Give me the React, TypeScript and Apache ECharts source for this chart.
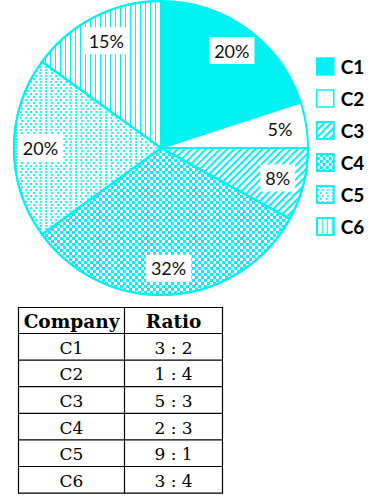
import React, { useEffect, useRef } from "react";
import * as echarts from "echarts";

const companies = ["C1", "C2", "C3", "C4", "C5", "C6"];
const shares = [20, 5, 8, 32, 20, 15];
const ratioHeader = ["Company", "Ratio"];
const ratios = ["3 : 2", "1 : 4", "5 : 3", "2 : 3", "9 : 1", "3 : 4"];

const CYAN = "#00F2F2";

const decals: any[] = [
  null,
  null,
  { symbol: "rect", color: CYAN, backgroundColor: "#fff", dashArrayX: [1, 0], dashArrayY: [2, 2.5], rotation: -Math.PI / 4 },
  { symbol: "rect", color: CYAN, backgroundColor: "#fff", dashArrayX: [[3, 3], [0, 3, 3, 0]], dashArrayY: [3, 0] },
  { symbol: "circle", color: CYAN, backgroundColor: "#fff", dashArrayX: [[2, 3], [0, 2.5, 2, 0.5]], dashArrayY: [2, 0.5] },
  { symbol: "rect", color: CYAN, backgroundColor: "#fff", dashArrayX: [1, 3.5], dashArrayY: [5, 0] },
];
const fills = [CYAN, "#fff", "#fff", "#fff", "#fff", "#fff"];

export default function App() {
  const ref = useRef<HTMLDivElement>(null);
  useEffect(() => {
    if (!ref.current) return;
    const chart = echarts.init(ref.current, null, { renderer: "svg" });

    const tLeft = 18.5, tMid = 124.5, tRight = 222.5, tTop = 307.5, headH = 26, rowH = 26.6;
    const graphics: any[] = [];
    const tBottom = tTop + headH + rowH * ratios.length;
    graphics.push({ type: "rect", shape: { x: tLeft, y: tTop, width: tRight - tLeft, height: tBottom - tTop }, style: { fill: "#fff", stroke: "#000", lineWidth: 1.2 } });
    graphics.push({ type: "line", shape: { x1: tMid, y1: tTop, x2: tMid, y2: tBottom }, style: { stroke: "#000", lineWidth: 1.2 } });
    for (let i = 0; i < ratios.length; i++) {
      const y = tTop + headH + rowH * i;
      graphics.push({ type: "line", shape: { x1: tLeft, y1: y, x2: tRight, y2: y }, style: { stroke: "#000", lineWidth: 1.2 } });
    }
    graphics.push({ type: "text", x: (tLeft + tMid) / 2, y: tTop + headH / 2 + 1, style: { text: ratioHeader[0], font: "bold 18.5px 'DejaVu Serif'", fill: "#000", align: "center", verticalAlign: "middle" } });
    graphics.push({ type: "text", x: (tMid + tRight) / 2, y: tTop + headH / 2 + 1, style: { text: ratioHeader[1], font: "bold 18.5px 'DejaVu Serif'", fill: "#000", align: "center", verticalAlign: "middle" } });
    companies.forEach((c, i) => {
      const cy = tTop + headH + rowH * i + rowH / 2 + 1;
      graphics.push({ type: "text", x: (tLeft + tMid) / 2, y: cy, style: { text: c, font: "17px 'DejaVu Serif'", fill: "#000", align: "center", verticalAlign: "middle" } });
      graphics.push({ type: "text", x: (tMid + tRight) / 2, y: cy, style: { text: ratios[i], font: "17px 'DejaVu Serif'", fill: "#000", align: "center", verticalAlign: "middle" } });
    });

    const visualData = companies.map((name, i) => ({
      name,
      value: shares[i],
      itemStyle: { color: fills[i], decal: decals[i] || undefined },
    }));
    const labelData = companies.map((name, i) => ({ name, value: shares[i] }));

    chart.setOption({
      animation: false,
      legend: {
        orient: "vertical",
        left: 316,
        top: 57,
        padding: 0,
        itemWidth: 17,
        itemHeight: 17,
        itemGap: 13,
        icon: "rect",
        data: companies,
        selectedMode: false,
        itemStyle: { borderColor: CYAN, borderWidth: 1.5 },
        textStyle: { fontFamily: "Lato", fontWeight: "bold", fontSize: 19, color: "#000", lineHeight: 17, padding: [0, 0, 0, 2] },
      },
      series: [
        {
          type: "pie",
          center: [161, 148],
          radius: [0, 147],
          startAngle: 90,
          clockwise: true,
          silent: true,
          label: { show: false },
          labelLine: { show: false },
          itemStyle: { borderColor: CYAN, borderWidth: 2 },
          emphasis: { disabled: true },
          data: visualData,
        },
        {
          type: "pie",
          center: [161, 148],
          radius: [88, 147],
          startAngle: 90,
          clockwise: true,
          silent: true,
          itemStyle: { color: "rgba(0,0,0,0)", borderWidth: 0 },
          emphasis: { disabled: true },
          labelLine: { show: false },
          label: {
            show: true,
            position: "inside",
            formatter: "{c}%",
            fontFamily: "Lato",
            fontSize: 18,
            color: "#111",
            backgroundColor: "#fff",
            padding: [5, 5, 4, 5],
          },
          data: labelData,
        },
      ],
      graphic: graphics,
    });
    return () => chart.dispose();
  }, []);
  return <div ref={ref} style={{ position: "fixed", left: 0, top: 0, width: 389, height: 501, background: "#fff" }} />;
}
